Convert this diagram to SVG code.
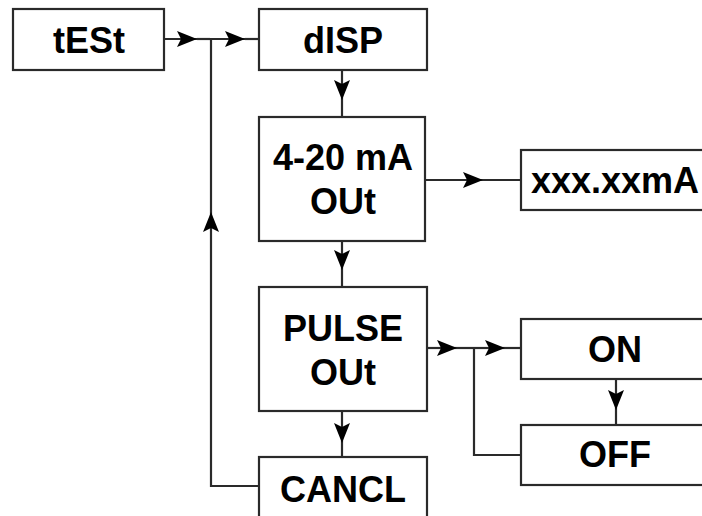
<svg xmlns="http://www.w3.org/2000/svg" width="702" height="516" viewBox="0 0 702 516">
<style>
.box{fill:#fff;stroke:#2a2a2a;stroke-width:2.2}
.ln{fill:none;stroke:#2a2a2a;stroke-width:2.2}
.t{font-family:"Liberation Sans",Arial,sans-serif;font-weight:bold;font-size:36px;fill:#000;text-anchor:middle}
</style>
<defs>
<marker id="ah" viewBox="0 0 20 16" refX="20" refY="8" markerWidth="20" markerHeight="16" markerUnits="userSpaceOnUse" orient="auto">
<path d="M0,0 L20,8 L0,16 L4,8 z" fill="#000"/>
</marker>
</defs>
<rect width="702" height="516" fill="#fff"/>
<g id="connectors">
<path class="ln" d="M164,39 L197,39" marker-end="url(#ah)"/>
<path class="ln" d="M197,39 L210,39"/>
<path class="ln" d="M210,39 L245,39" marker-end="url(#ah)"/>
<path class="ln" d="M245,39 L259,39"/>
<path class="ln" d="M342,70 L342,100" marker-end="url(#ah)"/>
<path class="ln" d="M342,100 L342,117"/>
<path class="ln" d="M425,180 L483,180" marker-end="url(#ah)"/>
<path class="ln" d="M483,180 L521,180"/>
<path class="ln" d="M342,241 L342,270" marker-end="url(#ah)"/>
<path class="ln" d="M342,270 L342,287"/>
<path class="ln" d="M427,348 L457,348" marker-end="url(#ah)"/>
<path class="ln" d="M457,348 L474,348"/>
<path class="ln" d="M474,348 L505,348" marker-end="url(#ah)"/>
<path class="ln" d="M505,348 L521,348"/>
<path class="ln" d="M474,348 L474,455 L521,455"/>
<path class="ln" d="M616,379 L616,410" marker-end="url(#ah)"/>
<path class="ln" d="M616,410 L616,425"/>
<path class="ln" d="M342,411 L342,443" marker-end="url(#ah)"/>
<path class="ln" d="M342,443 L342,457"/>
<path class="ln" d="M259,486 L211,486 L211,212" marker-end="url(#ah)"/>
<path class="ln" d="M211,212 L211,39"/>
</g>
<g id="test"><rect class="box" x="13" y="9" width="151" height="61"/><text class="t" x="89" y="53">tESt</text></g>
<g id="disp"><rect class="box" x="259" y="9" width="168" height="61"/><text class="t" x="343" y="53">dISP</text></g>
<g id="out420"><rect class="box" x="259" y="117" width="166" height="124"/><text class="t" x="343" y="170">4-20 mA</text><text class="t" x="343" y="214">OUt</text></g>
<g id="xxx"><rect class="box" x="521" y="150" width="200" height="60"/><text class="t" x="615" y="193">xxx.xxmA</text></g>
<g id="pulse"><rect class="box" x="259" y="287" width="168" height="124"/><text class="t" x="343" y="341">PULSE</text><text class="t" x="343" y="385">OUt</text></g>
<g id="on"><rect class="box" x="521" y="319" width="200" height="60"/><text class="t" x="615" y="362">ON</text></g>
<g id="off"><rect class="box" x="521" y="425" width="200" height="60"/><text class="t" x="615" y="467">OFF</text></g>
<g id="cancl"><rect class="box" x="259" y="457" width="168" height="70"/><text class="t" x="343" y="502">CANCL</text></g>
</svg>
